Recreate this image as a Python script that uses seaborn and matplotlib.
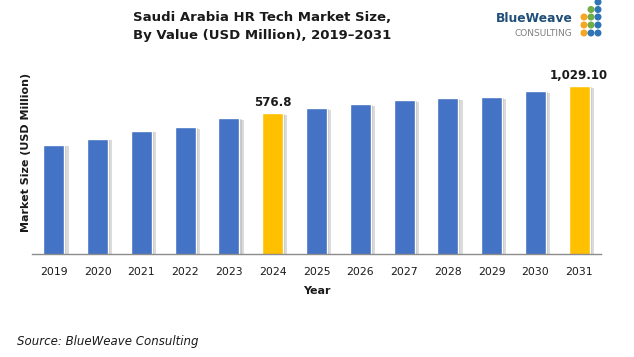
import matplotlib
matplotlib.use("Agg")
import matplotlib.pyplot as plt
import matplotlib.patheffects as pe
from matplotlib.patches import Ellipse
import numpy as np
import pandas as pd
import seaborn as sns

# data (only 2024 and 2031 are labelled)
years = ["2019", "2020", "2021", "2022", "2023", "2024", "2025",
         "2026", "2027", "2028", "2029", "2030", "2031"]
values = [290.4, 330.3, 392.2, 427.1, 518.0, 576.8, 642.1,
          699.4, 762.1, 795.5, 812.7, 924.3, 1029.1]
labels = {"2024": "576.8", "2031": "1,029.10"}

df = pd.DataFrame({"Year": years, "Value": values})

sns.set_theme(style="white")
plt.rcParams["font.family"] = ["DejaVu Sans"]

BLUE = "#4472C4"
GOLD = "#FFC000"
palette = {y: (GOLD if y in labels else BLUE) for y in years}

fig = plt.figure(figsize=(6.34, 3.57), dpi=100)
ax = fig.add_axes([0.0505, 0.2885, 0.8975, 0.515])

sns.barplot(data=df, x="Year", y="Value", hue="Year", palette=palette,
            width=0.48, legend=False, saturation=1, ax=ax)

# soft grey drop shadow on the bars
for p in ax.patches:
    p.set_path_effects([pe.SimplePatchShadow(offset=(3, -1), shadow_rgbFace="#8a8a8a", alpha=0.3),
                        pe.SimplePatchShadow(offset=(1.5, -0.5), shadow_rgbFace="#8a8a8a", alpha=0.3),
                        pe.Normal()])

ax.set_yscale("log")
ax.set_ylim(28.06, 1450)
ax.set_xlim(-0.5, len(years) - 0.5)

for i, y in enumerate(years):
    if y in labels:
        ax.annotate(labels[y], (i, values[i]), xytext=(0, 3), textcoords="offset points",
                    ha="center", va="bottom", fontsize=8.5, fontweight="bold", color="#1a1a1a")

# axes styling
for s in ["top", "right", "left"]:
    ax.spines[s].set_visible(False)
ax.spines["bottom"].set_color("#8c8c8c")
ax.spines["bottom"].set_linewidth(1.0)
ax.set_yticks([])
ax.set_yticks([], minor=True)
ax.tick_params(axis="x", which="major", length=0, pad=9, labelsize=7.8, colors="#1a1a1a")
ax.set_xticks(np.arange(-0.5, len(years)), minor=True)
ax.tick_params(axis="x", which="minor", length=4, width=0.8, color="#8c8c8c", direction="out")

ax.set_xlabel("Year", fontsize=8, fontweight="bold", color="#1a1a1a", labelpad=7)
ax.set_ylabel("Market Size (USD Million)", fontsize=8, fontweight="bold", color="#1a1a1a")
ax.yaxis.set_label_coords(-0.002, 0.55)

fig.text(0.413, 0.97, "Saudi Arabia HR Tech Market Size,\nBy Value (USD Million), 2019\u20132031",
         ha="center", va="top", fontsize=9.5, fontweight="bold", color="#1a1a1a", linespacing=1.5)

fig.text(0.027, 0.033, "Source: BlueWeave Consulting", fontsize=8.5, style="italic", color="#1a1a1a")

# logo
fig.text(0.782, 0.947, "BlueWeave", fontsize=8.8, fontweight="bold", color="#1F4E79",
         va="center", ha="left")
fig.text(0.812, 0.905, "CONSULTING", fontsize=6.5, color="#7f7f7f",
         va="center", ha="left")
dot_x = [584, 591, 598]
dot_rows = [(2, [None, None, "#2E75B6"]),
            (9.5, [None, "#70AD47", "#2E75B6"]),
            (17, ["#F5A623", "#70AD47", "#2E75B6"]),
            (25, ["#F5A623", "#70AD47", "#2E75B6"]),
            (33, ["#F5A623", "#2E75B6", "#2E75B6"])]
for yy, cols in dot_rows:
    for xx, c in zip(dot_x, cols):
        if c:
            fig.patches.append(Ellipse((xx / 634, 1 - yy / 357), 5.6 / 634, 5.6 / 357,
                                       transform=fig.transFigure, color=c))

fig.savefig("out.png", dpi=100)
